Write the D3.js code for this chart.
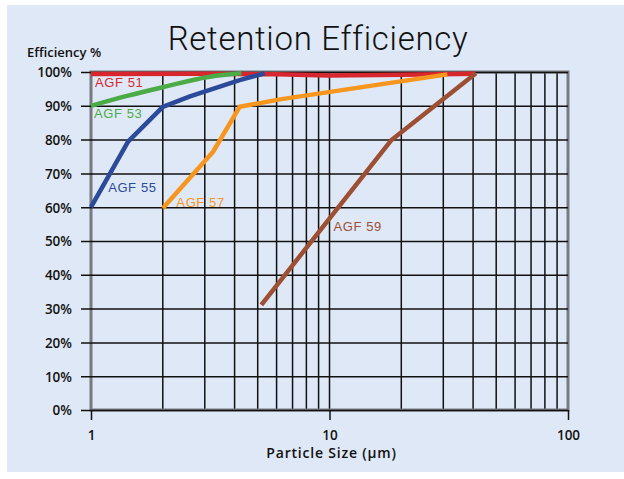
<!DOCTYPE html>
<html>
<head>
<meta charset="utf-8">
<script src="https://cdn.jsdelivr.net/npm/d3@7"></script>
<style>
  body { margin: 0; background: #fff; }
</style>
</head>
<body>
<script>
// data (particle size in um, efficiency in %)
var seriesNames = ['AGF 51', 'AGF 53', 'AGF 55', 'AGF 57', 'AGF 59'];
var sizes51 = [1, 3, 6, 10, 20, 41];
var eff51 = [99.4, 99.5, 99.3, 99.0, 99.2, 99.5];
var sizes53 = [1, 1.43, 2, 3.15, 4.27];
var eff53 = [90, 93, 95.5, 98.6, 99.6];
var sizes55 = [1, 1.43, 2, 2.6, 3.15, 4.2, 5.35];
var eff55 = [60, 79.4, 89.7, 92.8, 94.7, 97.6, 99.6];
var sizes57 = [2, 3.25, 4.2, 6.2, 31.2];
var eff57 = [59.7, 76.4, 89.7, 91.9, 99.3];
var sizes59 = [5.18, 18.2, 41.1];
var eff59 = [31.1, 79.9, 99.6];
// where the series labels sit (size, efficiency)
var labelSizes = [1.04, 1.03, 1.18, 2.28, 10.4];
var labelEffs = [95.5, 86.3, 64.6, 60.1, 53];
var yTicks = [0, 10, 20, 30, 40, 50, 60, 70, 80, 90, 100];
var xLabelTicks = [1, 10, 100];

var colors = ['#d8262f', '#4bab47', '#2b4a99', '#f7961f', '#9c4f33'];
// green is drawn as a smooth curve in the original
var smooth = [false, true, false, false, false];

var width = 624, height = 479;
var margin = { left: 91, top: 72, right: 56, bottom: 69 };
var w = width - margin.left - margin.right, h = height - margin.top - margin.bottom;

var svg = d3.select('body').append('svg')
    .attr('width', width)
    .attr('height', height);

// ljusblå bakgrund
svg.append('rect')
    .attr('x', 7).attr('y', 5)
    .attr('width', width - 7).attr('height', 467)
    .attr('fill', '#dfe8f6');

var x = d3.scaleLog().domain([1, 100]).range([0, w]);
var y = d3.scaleLinear().domain([0, 100]).range([h, 0]);

var g = svg.append('g').attr('transform', 'translate(' + margin.left + ',' + margin.top + ')');

// vertical grid at every log tick
g.append('g').selectAll('line')
    .data(x.ticks())
    .enter().append('line')
    .attr('x1', function(d) { return x(d); })
    .attr('x2', function(d) { return x(d); })
    .attr('y1', 0).attr('y2', h)
    .attr('stroke', '#111').attr('stroke-width', 1.5);

// frame
g.append('rect')
    .attr('x', 0).attr('y', 0).attr('width', w).attr('height', h)
    .attr('fill', 'none')
    .attr('stroke', '#777a80').attr('stroke-width', 3);

// y axis: gridlines that also stick out as ticks
var yAxis = d3.axisLeft(y).tickValues(yTicks).tickSize(-w).tickFormat(function(d) { return d + '%'; });
var yg = g.append('g').call(yAxis);
yg.select('.domain').remove();
yg.selectAll('.tick line')
    .attr('x1', -10)
    .attr('stroke', '#111').attr('stroke-width', 1.5);
yg.selectAll('.tick text')
    .attr('x', -19)
    .attr('dy', '0.36em')
    .attr('fill', '#111')
    .style('font-family', '"Open Sans", sans-serif')
    .style('font-weight', 600)
    .style('font-size', '13.5px');

// x axis, only the decades get ticks and labels
var xAxis = d3.axisBottom(x).tickValues(xLabelTicks).tickSize(10).tickFormat(d3.format('d'));
var xg = g.append('g').attr('transform', 'translate(0,' + h + ')').call(xAxis);
xg.select('.domain').remove();
xg.selectAll('.tick line').attr('stroke', '#111').attr('stroke-width', 1.5);
xg.selectAll('.tick text')
    .attr('y', 20)
    .attr('fill', '#111')
    .style('font-family', '"Open Sans", sans-serif')
    .style('font-weight', 600)
    .style('font-size', '13.5px');

// series lines
var allSizes = [sizes51, sizes53, sizes55, sizes57, sizes59];
var allEffs = [eff51, eff53, eff55, eff57, eff59];

for (var i = 0; i < seriesNames.length; i++) {
    var pts = allSizes[i].map(function(s, j) { return [s, allEffs[i][j]]; });
    var line = d3.line()
        .x(function(d) { return x(d[0]); })
        .y(function(d) { return y(d[1]); })
        .curve(smooth[i] ? d3.curveMonotoneX : d3.curveLinear);
    g.append('path')
        .attr('d', line(pts))
        .attr('fill', 'none')
        .attr('stroke', colors[i])
        .attr('stroke-width', 4.5)
        .attr('stroke-linejoin', 'round');
}

// series labels
g.selectAll('.lbl').data(seriesNames)
    .enter().append('text')
    .attr('x', function(d, i) { return x(labelSizes[i]); })
    .attr('y', function(d, i) { return y(labelEffs[i]); })
    .attr('fill', function(d, i) { return colors[i]; })
    .style('font-family', '"Liberation Sans", Arial, sans-serif')
    .style('font-size', '13px')
    .style('letter-spacing', '0.6px')
    .text(function(d) { return d; });

// titles
svg.append('text')
    .attr('x', 318).attr('y', 50)
    .attr('text-anchor', 'middle')
    .attr('fill', '#111')
    .style('font-family', 'Roboto, sans-serif')
    .style('font-weight', 300)
    .style('font-size', '33px')
    .style('letter-spacing', '0.7px')
    .text('Retention Efficiency');

svg.append('text')
    .attr('x', 27).attr('y', 57)
    .attr('fill', '#111')
    .style('font-family', '"Open Sans", sans-serif')
    .style('font-weight', 600)
    .style('font-size', '13px')
    .text('Efficiency %');

svg.append('text')
    .attr('x', margin.left + x(10) + 2).attr('y', 458)
    .attr('text-anchor', 'middle')
    .attr('fill', '#111')
    .style('font-family', '"Open Sans", sans-serif')
    .style('font-weight', 600)
    .style('font-size', '14px')
    .style('letter-spacing', '0.8px')
    .text('Particle Size (\u00b5m)');
</script>
</body>
</html>
